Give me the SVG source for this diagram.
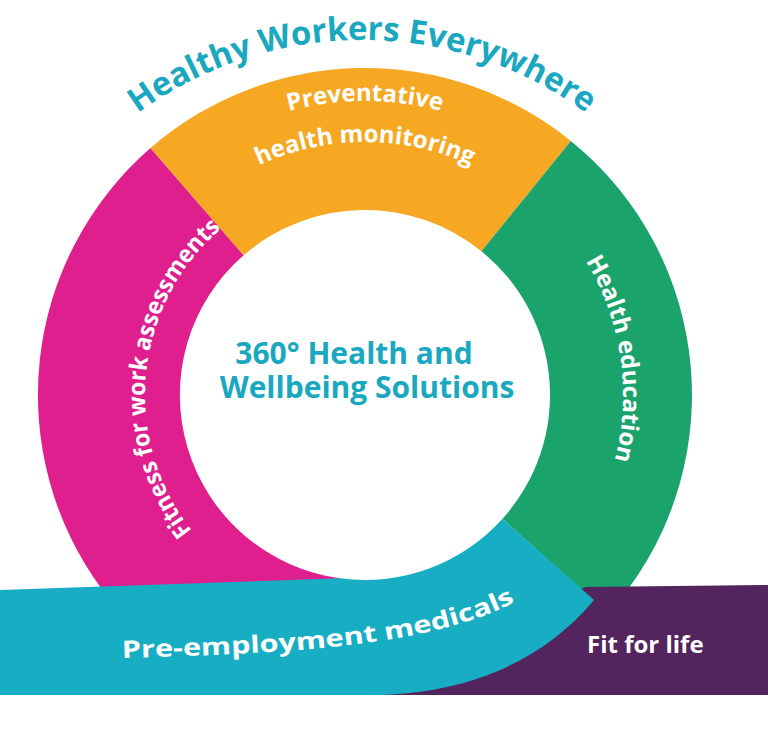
<svg xmlns="http://www.w3.org/2000/svg" xmlns:xlink="http://www.w3.org/1999/xlink" width="768" height="742" viewBox="0 0 768 742">
<style>
text{font-family:"Open Sans","Liberation Sans",sans-serif;font-weight:bold}
.lbl{fill:#fff;font-size:24px}
.teal{fill:#19a8c0}
</style>
<defs>
<path id="pTitle" d="M -18 420 A 380 380 0 0 1 742 420"/>
<path id="pPrev" d="M 71 395 A 294 294 0 0 1 659 395"/>
<path id="pHealthMon" d="M 112 395 A 253 253 0 0 1 618 395"/>
<path id="pFit" d="M 306.2 607 A 220 220 0 0 1 347.7 175.7"/>
<path id="pEdu" d="M 372.5 137.1 A 258 258 0 0 1 446.0 640.0"/>
<path id="pPre" d="M 122 658 C 300 653 440 646 526 596"/>
</defs>
<rect width="768" height="742" fill="#fff"/>
<g id="connectors"/>
<g id="fitness">
<path d="M 340 600 L 102.4 600 L 102.4 590 A 327 327 0 0 1 150.5 148.1 L 243.6 255.3 A 185 185 0 0 0 339.8 578.3 Z" fill="#e01f8f"/>
<text class="lbl" font-size="22"><textPath href="#pFit" startOffset="50%" text-anchor="middle" textLength="335" lengthAdjust="spacingAndGlyphs">Fitness for work assessments</textPath></text>
</g>
<g id="preventative">
<path d="M 150.5 148.1 A 327 327 0 0 1 570.8 140.9 L 481.4 251.2 A 185 185 0 0 0 243.6 255.3 Z" fill="#f7a823"/>
<text class="lbl"><textPath href="#pPrev" startOffset="50%" text-anchor="middle">Preventative</textPath></text>
<text class="lbl"><textPath href="#pHealthMon" startOffset="50%" text-anchor="middle">health monitoring</textPath></text>
</g>
<g id="education">
<path d="M 570.8 140.9 A 327 327 0 0 1 608 613.8 L 502.5 518.8 A 185 185 0 0 0 481.4 251.2 Z" fill="#1aa36b"/>
<text class="lbl"><textPath href="#pEdu" startOffset="50%" text-anchor="middle">Health education</textPath></text>
</g>
<g id="fitforlife">
<path d="M 585 587 L 768 585 L 768 695 L 370 695 Z" fill="#53245e"/>
<text class="lbl" x="587" y="653" font-size="26">Fit for life</text>
</g>
<g id="preemployment">
<path d="M 0 590 L 339.8 578.3 A 185 185 0 0 0 502.5 518.8 L 594 600 C 540 665 460 695 370 695 L 0 695 Z" fill="#17adc3"/>
<text class="lbl" font-size="29"><textPath href="#pPre" textLength="400" lengthAdjust="spacingAndGlyphs">Pre-employment medicals</textPath></text>
</g>
<g id="title">
<text class="teal" font-size="33"><textPath href="#pTitle" startOffset="50%" text-anchor="middle">Healthy Workers Everywhere</textPath></text>
</g>
<g id="center">
<text class="teal" font-size="30" x="354" y="364" text-anchor="middle" fill="#1aa3bd">360° Health and</text>
<text class="teal" font-size="30" x="367" y="398" text-anchor="middle" fill="#1aa3bd">Wellbeing Solutions</text>
</g>
</svg>
